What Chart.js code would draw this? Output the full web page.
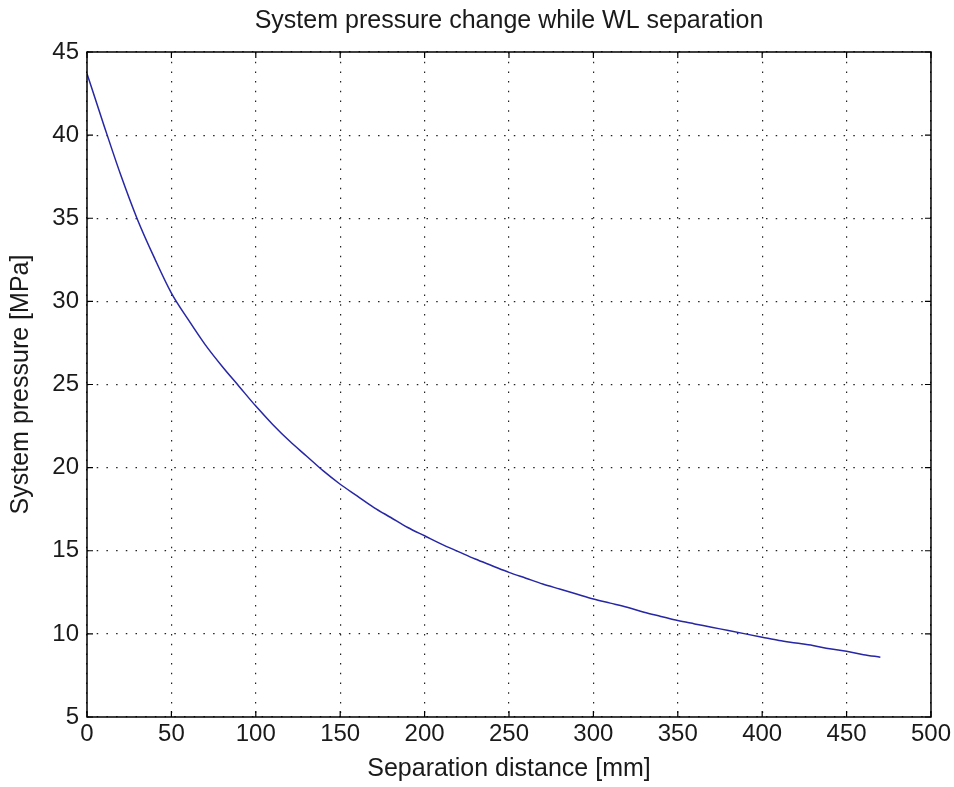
<!DOCTYPE html>
<html>
<head>
<meta charset="utf-8">
<script src="https://cdn.jsdelivr.net/npm/chart.js@4/dist/chart.umd.min.js"></script>
<style>
  html, body { margin: 0; padding: 0; background: #ffffff; }
  #wrap { width: 954px; height: 787px; position: relative; }
</style>
</head>
<body>
<div id="wrap"><canvas id="c" width="954" height="787"></canvas></div>
<script>
// Separation distance [mm]
const distance = [0, 10, 20, 30, 40, 50, 60, 70, 80, 90,
  100, 110, 120, 130, 140, 150, 160, 170, 180, 190,
  200, 210, 220, 230, 240, 250, 260, 270, 280, 290,
  300, 310, 320, 330, 340, 350, 360, 370, 380, 390,
  400, 410, 420, 430, 440, 450, 460, 470];
// System pressure [MPa]
const pressure = [43.7, 40.6, 37.6, 34.9, 32.6, 30.5, 28.9, 27.4, 26.1, 24.9,
  23.7, 22.6, 21.6, 20.7, 19.8, 19.0, 18.3, 17.6, 17.0, 16.4,
  15.9, 15.4, 14.95, 14.5, 14.1, 13.7, 13.35, 13.0, 12.7, 12.4,
  12.1, 11.85, 11.6, 11.3, 11.05, 10.8, 10.6, 10.4, 10.2, 10.0,
  9.8, 9.6, 9.45, 9.3, 9.1, 8.95, 8.75, 8.6];

const xTicks = [0, 50, 100, 150, 200, 250, 300, 350, 400, 450, 500];
const yTicks = [5, 10, 15, 20, 25, 30, 35, 40, 45];

const titleText = 'System pressure change while WL separation';
const xLabel = 'Separation distance [mm]';
const yLabel = 'System pressure [MPa]';

const points = distance.map((d, i) => ({ x: d, y: pressure[i] }));

const FONT = '"Liberation Sans", Arial, Helvetica, sans-serif';
const TXT = '#1a1a1a';

const framePlugin = {
  id: 'frame',
  afterDraw(chart) {
    const { ctx, chartArea: a, scales } = chart;
    ctx.save();
    ctx.strokeStyle = '#000';
    ctx.lineWidth = 1.5;
    ctx.setLineDash([]);
    ctx.strokeRect(a.left, a.top, a.right - a.left, a.bottom - a.top);
    const L = 6;
    ctx.lineWidth = 1.2;
    ctx.beginPath();
    scales.x.ticks.forEach(t => {
      const px = scales.x.getPixelForValue(t.value);
      ctx.moveTo(px, a.bottom); ctx.lineTo(px, a.bottom - L);
      ctx.moveTo(px, a.top); ctx.lineTo(px, a.top + L);
    });
    scales.y.ticks.forEach(t => {
      const py = scales.y.getPixelForValue(t.value);
      ctx.moveTo(a.left, py); ctx.lineTo(a.left + L, py);
      ctx.moveTo(a.right, py); ctx.lineTo(a.right - L, py);
    });
    ctx.stroke();
    ctx.restore();
  }
};

new Chart(document.getElementById('c'), {
  type: 'scatter',
  data: {
    datasets: [{
      data: points,
      showLine: true,
      borderColor: '#2626a6',
      borderWidth: 1.5,
      pointRadius: 0,
      fill: false,
      cubicInterpolationMode: 'monotone'
    }]
  },
  options: {
    responsive: false,
    animation: false,
    devicePixelRatio: 1,
    layout: { padding: { left: 6, right: 17, top: 0, bottom: 3 } },
    plugins: {
      legend: { display: false },
      tooltip: { enabled: false },
      title: {
        display: true,
        fullSize: false,
        text: titleText,
        color: TXT,
        font: { family: FONT, size: 25, weight: 'normal' },
        padding: { top: 6, bottom: 16 }
      }
    },
    scales: {
      x: {
        type: 'linear',
        min: 0, max: 500,
        afterBuildTicks: s => { s.ticks = xTicks.map(v => ({ value: v })); },
        ticks: { color: TXT, font: { family: FONT, size: 24 }, padding: 3, maxRotation: 0 },
        grid: { color: '#222', lineWidth: 1.2, drawTicks: false },
        border: { display: false, dash: [1.5, 8.2] },
        title: { display: true, text: xLabel, color: TXT, font: { family: FONT, size: 25 }, padding: { top: 0, bottom: 0 } },
        afterFit: s => { s.height = 67; }
      },
      y: {
        type: 'linear',
        min: 5, max: 45,
        afterBuildTicks: s => { s.ticks = yTicks.map(v => ({ value: v })); },
        ticks: { color: TXT, font: { family: FONT, size: 24 }, padding: 8 },
        grid: { color: '#222', lineWidth: 1.2, drawTicks: false },
        border: { display: false, dash: [1.5, 8.2] },
        title: { display: true, text: yLabel, color: TXT, font: { family: FONT, size: 25 }, padding: { top: 0, bottom: 4 } },
        afterFit: s => { s.width = 81; }
      }
    }
  },
  plugins: [framePlugin]
});
</script>
</body>
</html>
